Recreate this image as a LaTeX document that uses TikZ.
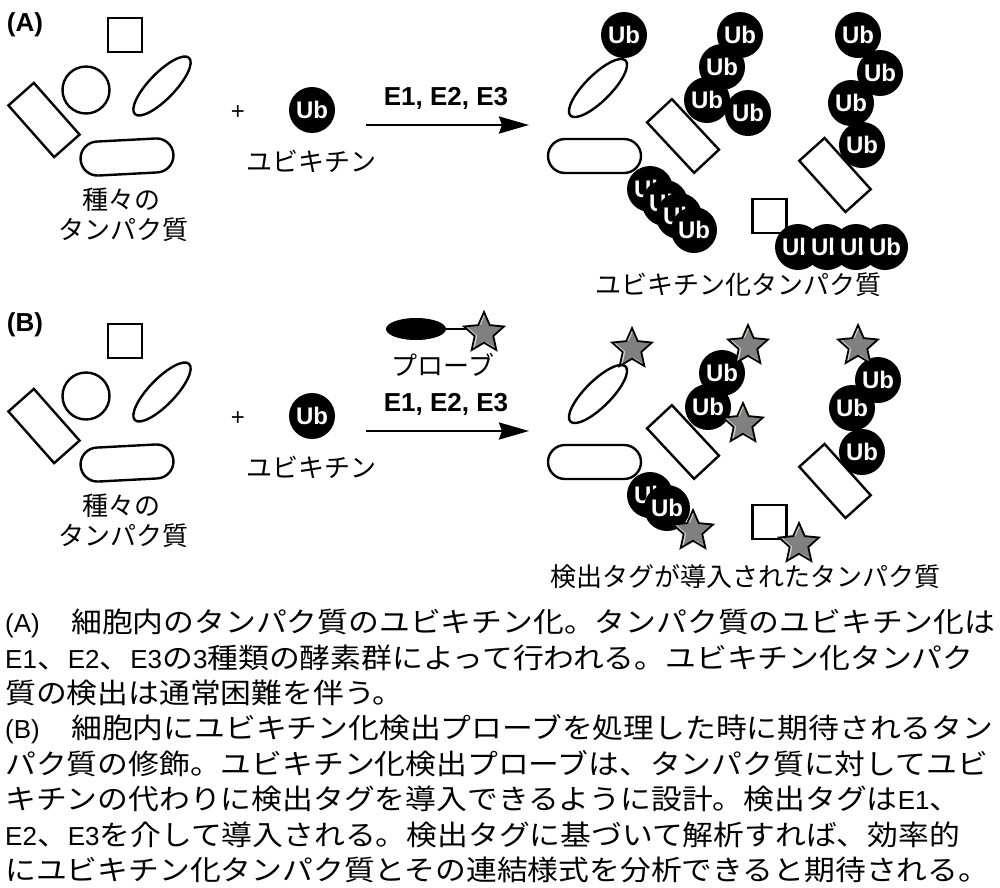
\documentclass[tikz,border=0pt]{standalone}
\usepackage{fontspec}
\setmainfont{Liberation Sans}
\newfontfamily\jp{Noto Sans CJK JP}
\newfontfamily\jpcap[FakeStretch=1.10]{Noto Sans CJK JP}
\newfontfamily\latcap{Liberation Sans}
\usetikzlibrary{shapes.geometric,arrows.meta}
\definecolor{bevel}{HTML}{C9DEC9}
\definecolor{stargrey}{HTML}{808080}
\newcommand\latinpart[1]{{\latcap\fontsize{26}{30}\selectfont#1}}
\tikzset{
  outl/.style={draw=black, line width=2.4pt, fill=white, inner sep=0pt, outer sep=0pt},
  protsq/.style={outl, rectangle, minimum width=34pt, minimum height=34pt},
  protcirc/.style={outl, circle, minimum size=47pt},
  protrect/.style={outl, rectangle, minimum width=69pt, minimum height=34pt},
  protell/.style={outl, ellipse, minimum width=78pt, minimum height=26pt},
  protstad/.style={outl, rectangle, rounded corners=17pt, minimum width=93pt, minimum height=34pt},
  ubball/.style={circle, fill=black, minimum size=46pt, inner sep=0pt, text=white, font=\fontsize{24}{24}\selectfont\bfseries},
  jplabel/.style={font=\jp\fontsize{26}{30}\selectfont, inner sep=0pt},
  plabel/.style={font=\fontsize{26}{30}\selectfont\bfseries, inner sep=0pt},
  enz/.style={font=\fontsize{26}{30}\selectfont\bfseries, inner sep=0pt},
  plus/.style={font=\fontsize{24}{24}\selectfont, inner sep=0pt},
  rxarrow/.style={line width=2.6pt, -{Stealth[length=30pt,width=17pt,inset=3pt]}},
  tagstarbase/.style={star, star points=5, star point ratio=2.15, minimum size=42pt, inner sep=0pt},
  capline/.style={font=\jpcap\fontsize{28}{34}\selectfont, inner sep=0pt, anchor=base west},
}
\newcommand\tagstar[3]{%
  \node[tagstarbase, fill=bevel, path picture={
      \node[tagstarbase, fill=stargrey] at ([xshift=2.6pt,yshift=-1.6pt]path picture bounding box.center) {};}] (#1) at (#2,#3) {};
  \node[tagstarbase, draw=black, line width=1.8pt] at (#2,#3) {};
}
\begin{document}
\begin{tikzpicture}[x=1pt,y=-1pt]
\useasboundingbox (0,0) rectangle (1000,887);
\fill[white] (0,0) rectangle (1000,887);

% panel labels
\node[plabel] (labA) at (25,25) {(A)};
\node[plabel] (labB) at (25,325) {(B)};

% left panels (identical in A and B)
\foreach \p/\dy in {A/0,B/306}{
  \node[protsq] (sq\p) at (125,{35+\dy}) {};
  \node[protcirc] (ci\p) at (86,{90+\dy}) {};
  \node[protrect, rotate=-48.5] (re\p) at (44,{120+\dy}) {};
  \node[protell, rotate=46] (el\p) at (162,{86+\dy}) {};
  \node[protstad, rotate=3] (st\p) at (127,{157+\dy}) {};
  \node[jplabel] (var\p) at (121,{200+\dy}) {種々の};
  \node[jplabel] (prot\p) at (123,{230+\dy}) {タンパク質};
  \node[plus] (plus\p) at (238,{113+\dy}) {+};
  \node[ubball] (ub\p) at (312,{110+\dy}) {Ub};
  \node[jplabel] (ubl\p) at (311,{161+\dy}) {ユビキチン};
  \node[enz] (enz\p) at (446,{98+\dy}) {E1, E2, E3};
  \coordinate (as\p) at (366,{125+\dy});
  \coordinate (ae\p) at (529,{125+\dy});
  \draw[rxarrow] (as\p) -- (ae\p);
}

% probe
\node[ellipse, fill=black, minimum width=60pt, minimum height=22pt, inner sep=0pt] (probe) at (416,329) {};
\coordinate (probeS) at (484,333);
\draw[line width=1.5pt] (probe.east) -- (probe.east -| probeS);
\tagstar{pstar}{484}{333}
\node[jplabel] (probel) at (443,365) {プローブ};

% right panel A: shapes
\node[protell, rotate=45] (rElA) at (598,88) {};
\node[protstad] (rStA) at (594.5,156) {};
\node[protrect, rotate=-47] (rReA) at (683,136) {};
\node[protrect, rotate=-48] (rRe2A) at (835,175) {};
\node[protsq] (rSqA) at (769.5,216) {};
% ubiquitins A
\node[ubball] (u1) at (624,35) {Ub};
\node[ubball] (u2) at (650,189) {Ub};
\node[ubball] (u3) at (665,203) {Ub};
\node[ubball] (u4) at (679,216) {Ub};
\node[ubball] (u5) at (694,230) {Ub};
\node[ubball] (u6) at (740,35) {Ub};
\node[ubball] (u7) at (722,67) {Ub};
\node[ubball] (u8) at (707,100) {Ub};
\node[ubball] (u9) at (748,113) {Ub};
\node[ubball] (u10) at (858,35) {Ub};
\node[ubball] (u11) at (880,73) {Ub};
\node[ubball] (u12) at (851,103) {Ub};
\node[ubball] (u13) at (862,145) {Ub};
\node[ubball] (u14) at (798,247) {Ub};
\node[ubball] (u15) at (827,247) {Ub};
\node[ubball] (u16) at (856,247) {Ub};
\node[ubball] (u17) at (885,247) {Ub};
\node[jplabel] (resA) at (738,285) {ユビキチン化タンパク質};

% right panel B: shapes
\node[protell, rotate=45] (rElB) at (598,394) {};
\node[protstad] (rStB) at (594.5,462) {};
\node[protrect, rotate=-47] (rReB) at (683,442) {};
\node[protrect, rotate=-48] (rRe2B) at (835,481) {};
\node[protsq] (rSqB) at (769.5,522) {};
\node[ubball] (v1) at (650,495) {Ub};
\node[ubball] (v2) at (667,508) {Ub};
\node[ubball] (v3) at (722,373) {Ub};
\node[ubball] (v4) at (708,407) {Ub};
\node[ubball] (v5) at (878,380) {Ub};
\node[ubball] (v6) at (852,408) {Ub};
\node[ubball] (v7) at (862,452) {Ub};
\tagstar{s1}{632}{349}
\tagstar{s2}{748}{346}
\tagstar{s3}{743}{424}
\tagstar{s4}{858}{346}
\tagstar{s5}{693}{531}
\tagstar{s6}{799}{544}
\node[jplabel] (resB) at (745,577) {検出タグが導入されたタンパク質};

% caption
\node[capline] (c1) at (5,632.6) {\makebox[66pt][l]{\latinpart{(A)}}細胞内のタンパク質のユビキチン化。タンパク質のユビキチン化は};
\node[capline] (c2) at (5,668) {\latinpart{E1}、\latinpart{E2}、\latinpart{E3}の\latinpart{3}種類の酵素群によって行われる。ユビキチン化タンパク};
\node[capline] (c3) at (5,703.5) {質の検出は通常困難を伴う。};
\node[capline] (c4) at (5,738.9) {\makebox[66pt][l]{\latinpart{(B)}}細胞内にユビキチン化検出プローブを処理した時に期待されるタン};
\node[capline] (c5) at (5,774.3) {パク質の修飾。ユビキチン化検出プローブは、タンパク質に対してユビ};
\node[capline] (c6) at (5,809.6) {キチンの代わりに検出タグを導入できるように設計。検出タグは\latinpart{E1}、};
\node[capline] (c7) at (5,845.2) {\latinpart{E2}、\latinpart{E3}を介して導入される。検出タグに基づいて解析すれば、効率的};
\node[capline] (c8) at (5,880.6) {にユビキチン化タンパク質とその連結様式を分析できると期待される。};
\end{tikzpicture}
\end{document}
